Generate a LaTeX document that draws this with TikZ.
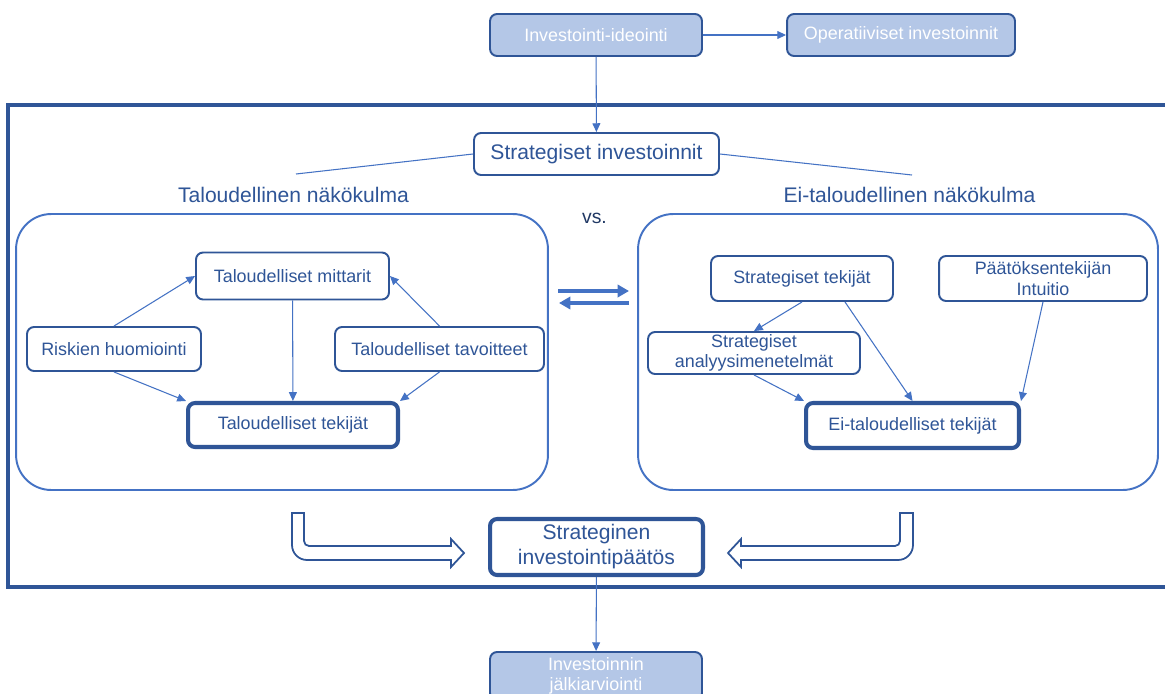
\documentclass[tikz,border=0pt]{standalone}
\usepackage{fontspec}
\setmainfont{Liberation Sans}
\usetikzlibrary{arrows.meta}

\definecolor{darkblue}{HTML}{2F5597}
\definecolor{midblue}{HTML}{4472C4}
\definecolor{lightblue}{HTML}{B4C7E7}
\definecolor{navy}{HTML}{203864}

\tikzset{
  box/.style={draw=darkblue, line width=1.1pt, rounded corners=4pt, fill=white, text=darkblue,
    align=center, inner sep=0pt, font=\fontsize{10.2}{11.6}\selectfont},
  keybox/.style={box, line width=2.3pt},
  topbox/.style={box, fill=lightblue, text=white},
  big/.style={font=\fontsize{12}{14.2}\selectfont},
  heading/.style={big, text=darkblue},
  panel/.style={draw=midblue, line width=1.1pt, rounded corners=20pt},
  conn/.style={midblue, line width=0.6pt, -{Triangle[length=5pt,width=4.5pt]}},
  exchange/.style={draw=midblue, line width=2.3pt, -{Triangle[length=6.5pt,width=7pt]}},
  hollow/.style={draw=darkblue, line width=1pt, fill=white},
  frame/.style={draw=darkblue, line width=1.8pt}
}

\begin{document}
\begin{tikzpicture}[x=0.02cm, y=-0.02cm]
  \useasboundingbox (0,0) rectangle (1165,693);
  \clip (0,0) rectangle (1165,693);
  \fill[white] (0,0) rectangle (1165,693);

  \draw[frame] (1180,105) -- (8,105) -- (8,587) -- (1180,587);

  \node[topbox, minimum width=4.24cm, minimum height=0.84cm] (ideointi) at (596,35) {Investointi-ideointi};
  \node[topbox, minimum width=4.56cm, minimum height=0.84cm] (operatiivi) at (901,35) {Operatiiviset investoinnit};
  \node[box, big, minimum width=4.9cm, minimum height=0.84cm] (strinv) at (596.5,154) {Strategiset investoinnit};

  \node[heading] (talhead) at (293.5,195) {Taloudellinen näkökulma};
  \node[heading] (eihead) at (909.5,195) {Ei-taloudellinen näkökulma};
  \node[text=navy, font=\fontsize{11}{13}\selectfont] (vs) at (594.5,218) {vs.};
  \coordinate (talend) at (296,174);
  \coordinate (eiend) at (912,175);

  \node[panel, minimum width=10.64cm, minimum height=5.52cm] (lpanel) at (282,352) {};
  \node[panel, minimum width=10.4cm, minimum height=5.52cm] (rpanel) at (898,352) {};

  \node[box, minimum width=3.86cm, minimum height=0.94cm] (mittarit) at (292.5,276) {Taloudelliset mittarit};
  \node[box, minimum width=3.48cm, minimum height=0.88cm] (riskit) at (114,349) {Riskien huomiointi};
  \node[box, minimum width=4.18cm, minimum height=0.88cm] (tavoitteet) at (439.5,349) {Taloudelliset tavoitteet};
  \node[keybox, minimum width=4.2cm, minimum height=0.88cm] (taltekijat) at (293,425) {Taloudelliset tekijät};

  \node[box, minimum width=3.64cm, minimum height=0.9cm] (strtekijat) at (802,278.5) {Strategiset tekijät};
  \node[box, minimum width=4.16cm, minimum height=0.9cm] (intuitio) at (1043,278.5) {Päätöksentekijän\\Intuitio};
  \node[box, minimum width=4.24cm, minimum height=0.84cm] (analyysi) at (754,353) {Strategiset\\analyysimenetelmät};
  \node[keybox, minimum width=4.26cm, minimum height=0.9cm] (eitekijat) at (912.5,425.5) {Ei-taloudelliset tekijät};

  \node[keybox, big, minimum width=4.26cm, minimum height=1.12cm] (paatos) at (596.5,547) {Strateginen\\investointipäätös};
  \node[topbox, minimum width=4.24cm, minimum height=0.96cm] (jalki) at (596,676) {Investoinnin\\jälkiarviointi};

  \coordinate (fwdA) at (558,291);
  \coordinate (fwdB) at (629,291);
  \coordinate (bwdA) at (629,303);
  \coordinate (bwdB) at (559,303);
  \draw[exchange] (fwdA) -- (fwdB);
  \draw[exchange] (bwdA) -- (bwdB);

  \draw[midblue, line width=0.6pt] (strinv.west) -- (talend);
  \draw[midblue, line width=0.6pt] (strinv.east) -- (eiend);

  \path[conn]
  (ideointi) edge (operatiivi)
  (ideointi) edge (strinv)
  (riskit.north) edge (mittarit.west)
  (tavoitteet.north) edge (mittarit.east)
  (mittarit) edge (taltekijat)
  (riskit.south) edge (taltekijat.north west)
  (tavoitteet.south) edge (taltekijat.north east)
  (strtekijat.south) edge (analyysi.north)
  ([xshift=0.86cm]strtekijat.south) edge (eitekijat.north)
  (intuitio.south) edge (eitekijat.north east)
  (analyysi.south) edge (eitekijat.north west)
  (paatos) edge (jalki)
;

  \draw[hollow] (292,513) -- (292,545) arc[start angle=180, end angle=270, radius=0.3cm]
    -- (451,560) -- (451,567) -- (464,553) -- (451,539) -- (451,546)
    -- (309,546) arc[start angle=270, end angle=180, radius=0.1cm] -- (304,513) -- cycle;
  \draw[hollow] (913,513) -- (913,545) arc[start angle=0, end angle=-90, radius=0.3cm]
    -- (741,560) -- (741,567) -- (728,553) -- (741,539) -- (741,546)
    -- (895,546) arc[start angle=-90, end angle=0, radius=0.1cm] -- (900,513) -- cycle;
\end{tikzpicture}
\end{document}
